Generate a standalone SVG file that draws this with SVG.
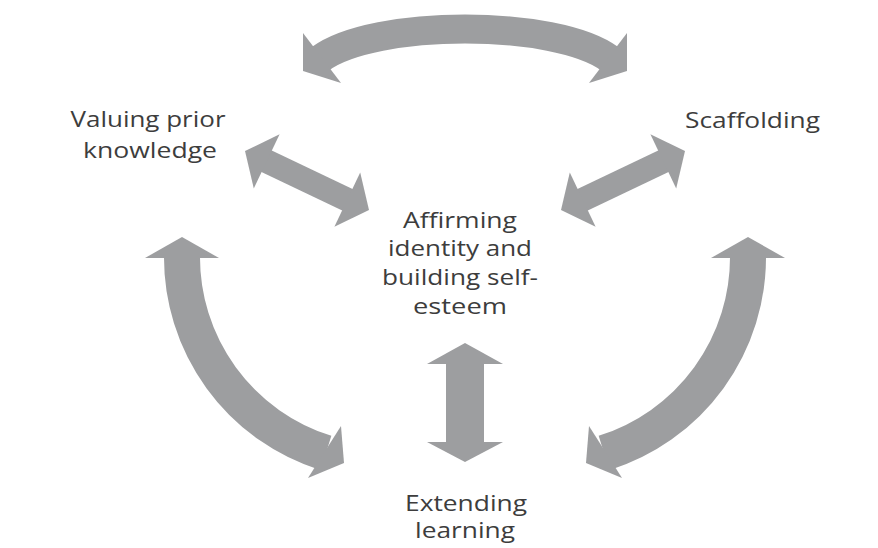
<svg xmlns="http://www.w3.org/2000/svg" width="878" height="548" viewBox="0 0 878 548">
<style>
.hd{fill:#9d9ea0}
.bd{fill:none;stroke:#9d9ea0;stroke-linecap:butt}
.t{font-family:"Open Sans","Liberation Sans",sans-serif;font-size:21px;fill:#3d3d3d;text-anchor:middle}
</style>
<rect width="878" height="548" fill="#ffffff"/>
<g id="connectors">
  <g id="arc-top">
    <path class="bd" d="M320,59 C374,19 556,19 610,59" stroke-width="29"/>
    <polygon class="hd" points="303,71 303,33 341,83"/>
    <polygon class="hd" points="627,71 627,33 589,83"/>
  </g>
  <g id="diag-left">
    <line class="bd" x1="264" y1="160" x2="350" y2="201" stroke-width="24"/>
    <polygon class="hd" points="245,151 279.6,134.2 253.8,188.4"/>
    <polygon class="hd" points="369,210 360.2,172.6 334.4,226.8"/>
  </g>
  <g id="diag-right" transform="matrix(-1,0,0,1,930,0)">
    <line class="bd" x1="264" y1="160" x2="350" y2="201" stroke-width="24"/>
    <polygon class="hd" points="245,151 279.6,134.2 253.8,188.4"/>
    <polygon class="hd" points="369,210 360.2,172.6 334.4,226.8"/>
  </g>
  <g id="curve-left">
    <path class="bd" d="M182,255 A205,205 0 0 0 326,453" stroke-width="36"/>
    <polygon class="hd" points="182,237 145,258 219,258"/>
    <polygon class="hd" points="344,463 341,426 308,478"/>
  </g>
  <g id="curve-right" transform="matrix(-1,0,0,1,930,0)">
    <path class="bd" d="M182,255 A205,205 0 0 0 326,453" stroke-width="36"/>
    <polygon class="hd" points="182,237 145,258 219,258"/>
    <polygon class="hd" points="344,463 341,426 308,478"/>
  </g>
  <g id="vertical">
    <rect class="hd" x="446" y="362" width="38" height="82"/>
    <polygon class="hd" points="465,343 427,364 503,364"/>
    <polygon class="hd" points="427,442 503,442 465,462"/>
  </g>
</g>
<g id="node-valuing">
  <text class="t" x="148" y="127" textLength="155" lengthAdjust="spacingAndGlyphs">Valuing prior</text>
  <text class="t" x="150" y="158" textLength="134" lengthAdjust="spacingAndGlyphs">knowledge</text>
</g>
<g id="node-scaffolding">
  <text class="t" x="752.5" y="128" textLength="135" lengthAdjust="spacingAndGlyphs">Scaffolding</text>
</g>
<g id="node-affirming">
  <text class="t" x="460" y="228" textLength="114" lengthAdjust="spacingAndGlyphs">Affirming</text>
  <text class="t" x="460" y="256" textLength="144" lengthAdjust="spacingAndGlyphs">identity and</text>
  <text class="t" x="460" y="285" textLength="156" lengthAdjust="spacingAndGlyphs">building self-</text>
  <text class="t" x="460" y="314" textLength="94" lengthAdjust="spacingAndGlyphs">esteem</text>
</g>
<g id="node-extending">
  <text class="t" x="466" y="511" textLength="122" lengthAdjust="spacingAndGlyphs">Extending</text>
  <text class="t" x="465" y="538" textLength="100" lengthAdjust="spacingAndGlyphs">learning</text>
</g>
</svg>
